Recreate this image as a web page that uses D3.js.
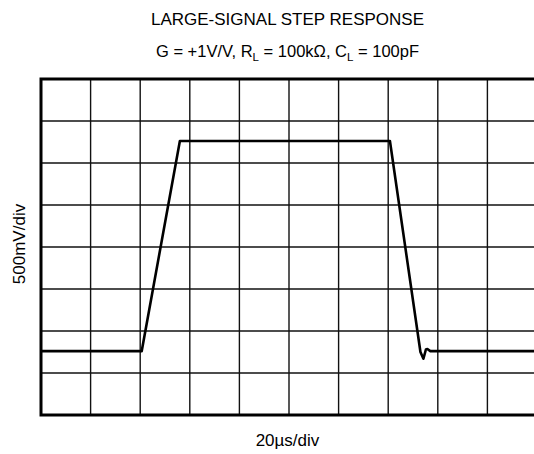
<!DOCTYPE html>
<html><head><meta charset="utf-8">
<script src="https://cdn.jsdelivr.net/npm/d3@7"></script>
<style>html,body{margin:0;padding:0;background:#fff;overflow:hidden}</style>
</head><body>
<script>
// Data (time in µs, output in V)
const timeUs = [0, 40.6, 56.0, 140.7, 153.0, 154.2, 155.2, 155.8, 157.0, 200];
const voltsV = [-1.24, -1.24, 1.262, 1.262, -1.25, -1.33, -1.22, -1.215, -1.24, -1.24];
const xTicks = [0, 20, 40, 60, 80, 100, 120, 140, 160, 180, 200];
const yTicks = [-2, -1.5, -1, -0.5, 0, 0.5, 1, 1.5, 2];
const title = "LARGE-SIGNAL STEP RESPONSE";
const xLabel = "20\u00b5s/div";
const yLabel = "500mV/div";

const W = 534, H = 454;
const svg = d3.select("body").append("svg").attr("width", W).attr("height", H)
  .style("font-family", "'Liberation Sans', Arial, sans-serif");

const x = d3.scaleLinear().domain([0, 200]).range([41, 537]);
const y = d3.scaleLinear().domain([-2, 2]).range([415, 79]);

// grid
svg.append("g").selectAll("line").data(xTicks.slice(1, -1)).join("line")
  .attr("x1", d => x(d)).attr("x2", d => x(d)).attr("y1", y(2)).attr("y2", y(-2))
  .attr("stroke", "#111").attr("stroke-width", 1.4);
svg.append("g").selectAll("line").data(yTicks.slice(1, -1)).join("line")
  .attr("x1", x(0)).attr("x2", x(200)).attr("y1", d => y(d)).attr("y2", d => y(d))
  .attr("stroke", "#111").attr("stroke-width", 1.4);

// border
svg.append("rect").attr("x", x(0)).attr("y", y(2))
  .attr("width", x(200) - x(0)).attr("height", y(-2) - y(2))
  .attr("fill", "none").attr("stroke", "#000").attr("stroke-width", 3);

// trace
const pts = timeUs.map((t, i) => [t, voltsV[i]]);
svg.append("path").datum(pts)
  .attr("d", d3.line().x(d => x(d[0])).y(d => y(d[1])).curve(d3.curveLinear))
  .attr("fill", "none").attr("stroke", "#000").attr("stroke-width", 2.6)
  .attr("stroke-linejoin", "round");

// titles
const cx = 287.5;
svg.append("text").attr("x", cx).attr("y", 25).attr("text-anchor", "middle")
  .attr("font-size", 17).text(title);
const sub = svg.append("text").attr("x", cx).attr("y", 57).attr("text-anchor", "middle")
  .attr("font-size", 16.5);
sub.append("tspan").text("G = +1V/V, R");
sub.append("tspan").attr("font-size", 11.5).attr("dy", 3.5).text("L");
sub.append("tspan").attr("dy", -3.5).text(" = 100k\u03a9, C");
sub.append("tspan").attr("font-size", 11.5).attr("dy", 3.5).text("L");
sub.append("tspan").attr("dy", -3.5).text(" = 100pF");

svg.append("text").attr("x", cx).attr("y", 446).attr("text-anchor", "middle")
  .attr("font-size", 17).text(xLabel);
svg.append("text").attr("transform", `translate(25,244) rotate(-90)`)
  .attr("text-anchor", "middle").attr("font-size", 17).text(yLabel);
</script>
</body></html>
